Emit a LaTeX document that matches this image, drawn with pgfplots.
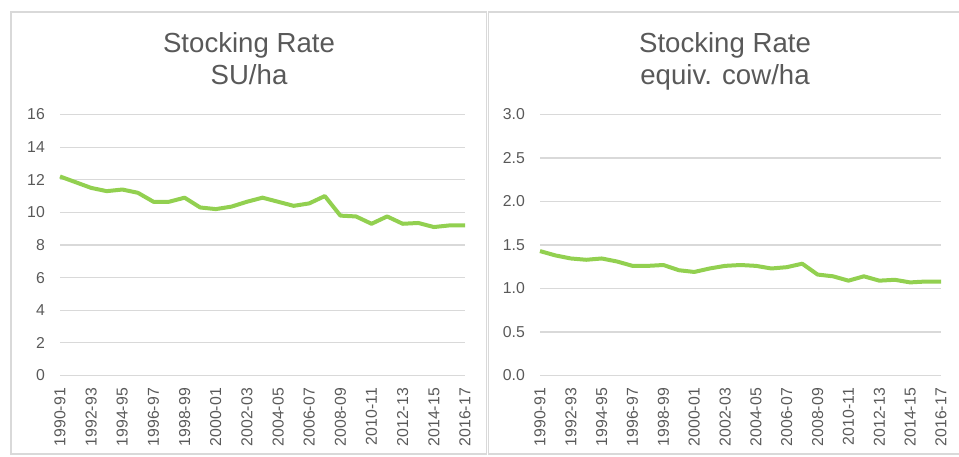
\documentclass[border=0pt]{standalone}
\usepackage{pgfplots}
\pgfplotsset{compat=1.18}
\usepackage{fontspec}
\setmainfont{Liberation Sans}
\definecolor{txt}{HTML}{595959}
\definecolor{grid}{HTML}{D9D9D9}
\definecolor{linegreen}{HTML}{92D050}
\pgfplotstableread{
x su cow
0 12.20 1.43
1 11.85 1.38
2 11.50 1.345
3 11.30 1.33
4 11.40 1.345
5 11.20 1.31
6 10.65 1.26
7 10.65 1.26
8 10.90 1.27
9 10.30 1.21
10 10.20 1.19
11 10.35 1.23
12 10.65 1.26
13 10.90 1.27
14 10.65 1.26
15 10.40 1.23
16 10.55 1.245
17 11.00 1.285
18 9.80 1.16
19 9.75 1.14
20 9.30 1.09
21 9.75 1.14
22 9.30 1.09
23 9.35 1.10
24 9.10 1.07
25 9.20 1.08
26 9.20 1.08
}\datatable
\pgfplotsset{
  panel/.style={
    scale only axis,
    anchor=south west,
    height=261bp,
    xmin=0, xmax=26, ymin=0,
    axis line style={draw=none},
    major tick length=0pt,
    tick style={draw=none},
    ymajorgrids,
    grid style={draw=grid, line width=1.2bp},
    xtick={0,2,...,26},
    xticklabels={1990-91,1992-93,1994-95,1996-97,1998-99,2000-01,2002-03,2004-05,2006-07,2008-09,2010-11,2012-13,2014-15,2016-17},
    /pgf/number format/assume math mode=true,
    tick label style={font=\fontsize{15.8bp}{18bp}\selectfont, text=txt},
    xticklabel style={rotate=90, anchor=east, inner sep=0pt, xshift=-12.5bp},
    yticklabel style={anchor=east, inner sep=0pt, xshift=-15bp},
    clip=false,
  }
}
\begin{document}
\begin{tikzpicture}[x=1bp,y=1bp]
\path[use as bounding box] (0,0) rectangle (959,457);
\draw[grid, line width=1.3bp] (11,3) rectangle (486.5,445);
\draw[grid, line width=1.3bp] (488.5,3) rectangle (965,445);
\node[anchor=base, text=txt, font=\fontsize{27.6bp}{32bp}\selectfont] at (249,404) {Stocking Rate};
\node[anchor=base, text=txt, font=\fontsize{27.6bp}{32bp}\selectfont] at (249,372) {SU/ha};
\node[anchor=base, text=txt, font=\fontsize{27.6bp}{32bp}\selectfont] at (725,404) {Stocking Rate};
\node[anchor=base, text=txt, font=\fontsize{27.6bp}{32bp}\selectfont] at (725,372) {equiv. cow/ha};
\begin{axis}[panel, at={(60bp,81.5bp)}, width=405bp, ymax=16, ytick={0,2,...,16}]
\addplot[linegreen, line width=4bp, line join=round] table[x=x, y=su] {\datatable};
\end{axis}
\begin{axis}[panel, at={(540bp,81.5bp)}, width=401bp, ymax=3, ytick={0,0.5,...,3},
  yticklabel style={/pgf/number format/.cd, fixed, fixed zerofill, precision=1}]
\addplot[linegreen, line width=4bp, line join=round] table[x=x, y=cow] {\datatable};
\end{axis}
\end{tikzpicture}
\end{document}
